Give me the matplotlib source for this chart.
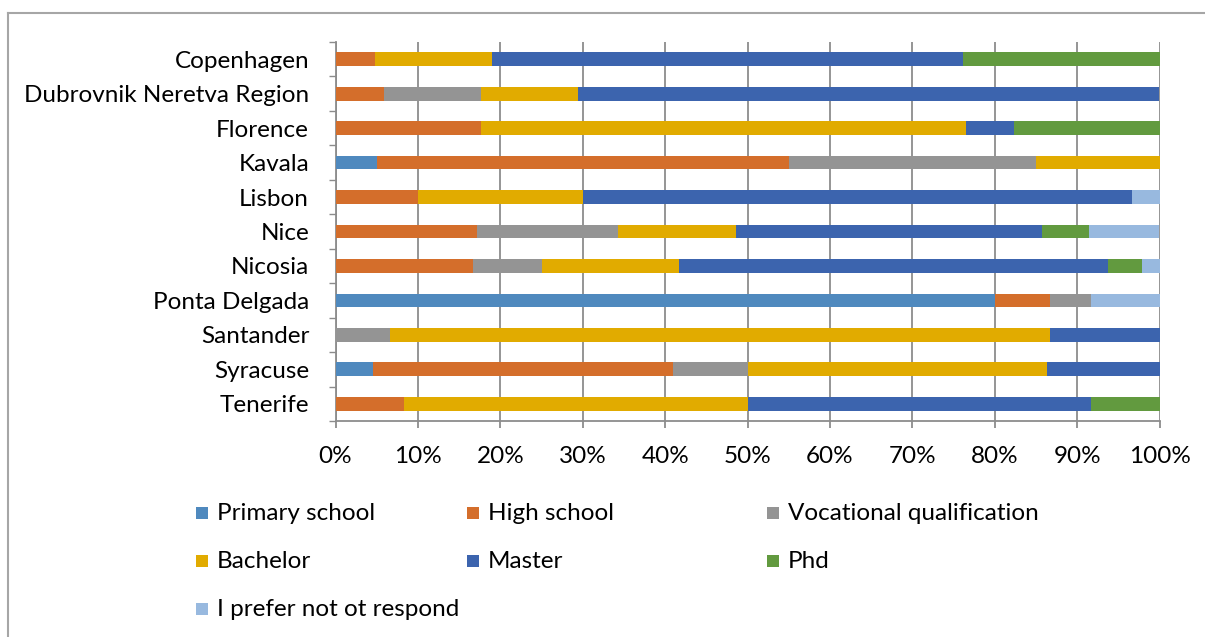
import matplotlib
matplotlib.use("Agg")
import matplotlib.pyplot as plt
from matplotlib.patches import Rectangle
from matplotlib.lines import Line2D
from matplotlib.ticker import FixedLocator, PercentFormatter

plt.rcParams['font.family'] = ['Lato', 'DejaVu Sans']

cities = ["Copenhagen", "Dubrovnik Neretva Region", "Florence", "Kavala", "Lisbon",
          "Nice", "Nicosia", "Ponta Delgada", "Santander", "Syracuse", "Tenerife"]

# share of respondents (%) per education level, one value per city
primary_school = [0, 0, 0, 5.00, 0, 0, 0, 80.00, 0, 4.55, 0]
high_school = [4.76, 5.88, 17.65, 50.00, 10.00, 17.14, 16.67, 6.67, 0, 36.36, 8.33]
vocational = [0, 11.76, 0, 30.00, 0, 17.14, 8.33, 5.00, 6.67, 9.09, 0]
bachelor = [14.29, 11.76, 58.82, 15.00, 20.00, 14.29, 16.67, 0, 80.00, 36.36, 41.67]
master = [57.14, 70.59, 5.88, 0, 66.67, 37.14, 52.08, 0, 13.33, 13.64, 41.67]
phd = [23.81, 0, 17.65, 0, 0, 5.71, 4.17, 0, 0, 0, 8.33]
no_response = [0, 0, 0, 0, 3.33, 8.57, 2.08, 8.33, 0, 0, 0]

series_labels = ["Primary school", "High school", "Vocational qualification",
                 "Bachelor", "Master", "Phd", "I prefer not ot respond"]
series_values = [primary_school, high_school, vocational, bachelor, master, phd, no_response]
series_colors = ["#4F89BE", "#D46E2B", "#949494", "#E1AB00", "#3C64AE", "#629A3F", "#98B9DF"]

x_ticks = list(range(0, 101, 10))

W, H = 1205, 637
fig = plt.figure(figsize=(W / 100, H / 100), dpi=100)
fig.patch.set_facecolor("white")

# chart frame (top and left edges visible)
grey = "#8C8C8C"
fig.add_artist(Line2D([8 / W, 1.0], [1 - 12.5 / H, 1 - 12.5 / H], color="#A6A6A6", lw=1.5,
                      transform=fig.transFigure))
fig.add_artist(Line2D([8 / W, 8 / W], [0, 1 - 12.5 / H], color="#A6A6A6", lw=1.5,
                      transform=fig.transFigure))

left_px, right_px, top_px, bottom_px = 335.5, 1159.5, 42, 421
ax = fig.add_axes([left_px / W, 1 - bottom_px / H, (right_px - left_px) / W, (bottom_px - top_px) / H])

ypos = list(range(len(cities)))
lefts = [0.0] * len(cities)
for vals, lab, col in zip(series_values, series_labels, series_colors):
    ax.barh(ypos, vals, left=lefts, height=0.4, color=col, label=lab, zorder=3, linewidth=0)
    lefts = [l + v for l, v in zip(lefts, vals)]

ax.set_xlim(0, 100)
ax.set_ylim(len(cities) - 0.5, -0.5)

ax.xaxis.set_major_locator(FixedLocator(x_ticks))
ax.xaxis.set_major_formatter(PercentFormatter(decimals=0))
ax.grid(axis="x", color=grey, lw=1.3, zorder=0)
ax.set_yticks(ypos)
ax.set_yticklabels(cities)
ax.yaxis.set_minor_locator(FixedLocator([i - 0.5 for i in range(len(cities) + 1)]))

fs = 17.5
ax.tick_params(axis="y", which="major", length=0, pad=19, labelsize=fs, labelcolor="black")
ax.tick_params(axis="y", which="minor", length=7 * 0.72, width=1.0, color=grey)
ax.tick_params(axis="x", which="major", length=7 * 0.72, width=1.3, color=grey, pad=13,
               labelsize=fs, labelcolor="black")

for s in ["top", "right"]:
    ax.spines[s].set_visible(False)
for s in ["left", "bottom"]:
    ax.spines[s].set_color(grey)
    ax.spines[s].set_linewidth(1.3)

# legend laid out in three fixed columns
col_x = [196, 467, 767]
row_y = [513, 561, 609]
for i, (lab, col) in enumerate(zip(series_labels, series_colors)):
    cx = col_x[i % 3]
    cy = row_y[i // 3]
    sq = 12
    fig.add_artist(Rectangle(((cx) / W, 1 - (cy + sq / 2) / H), sq / W, sq / H,
                             transform=fig.transFigure, facecolor=col, edgecolor="none"))
    fig.text((cx + 21) / W, 1 - cy / H, lab, fontsize=fs, va="center", ha="left")

fig.savefig("out.png", dpi=100)
